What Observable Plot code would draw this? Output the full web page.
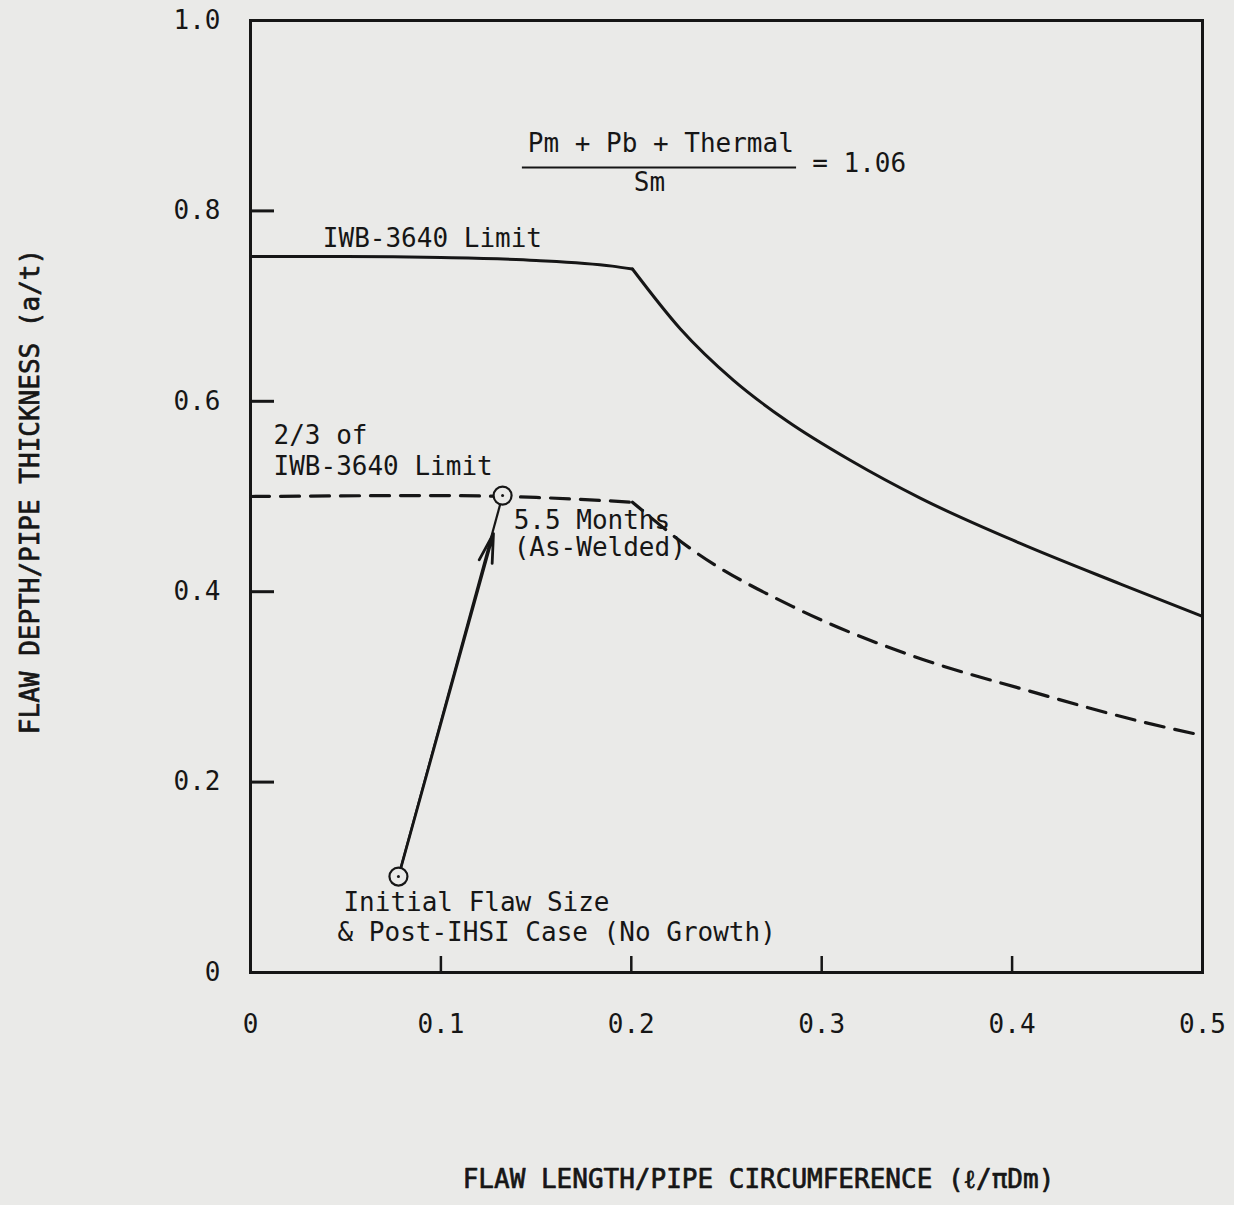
<!DOCTYPE html>
<html>
<head>
<meta charset="utf-8">
<script src="https://cdn.jsdelivr.net/npm/d3@7"></script>
<script src="https://cdn.jsdelivr.net/npm/@observablehq/plot@0.6"></script>
<style>
  html, body { margin: 0; padding: 0; background: #eaeae8; }
  #chart svg { display: block; }
</style>
</head>
<body>
<div id="chart"></div>
<script>
// ---- Data ----
// IWB-3640 limit curve (a/t vs l/πDm): flat part, then the falling part after the knee at ~0.2
const limitFlatX = [0, 0.05, 0.1, 0.15, 0.19, 0.2006];
const limitFlatY = [0.752, 0.752, 0.751, 0.748, 0.742, 0.739];
const limitFallX = [0.2006, 0.2258, 0.2537, 0.282, 0.315, 0.352, 0.404, 0.457, 0.5];
const limitFallY = [0.739, 0.676, 0.622, 0.579, 0.538, 0.498, 0.451, 0.408, 0.374];

// 2/3 of IWB-3640 limit (dashed)
const twoThirdFlatX = [0, 0.1, 0.15, 0.2006];
const twoThirdFlatY = [0.500, 0.501, 0.499, 0.494];
const twoThirdFallX = [0.2006, 0.2327, 0.2862, 0.347, 0.4085, 0.47, 0.5];
const twoThirdFallY = [0.494, 0.443, 0.383, 0.333, 0.296, 0.2625, 0.249];

// Flaw growth points
const pointNames = ["Initial", "5.5 Months"];
const pointX = [0.0777, 0.1324];
const pointY = [0.1008, 0.501];
// arrow head location along the growth path
const arrowTipX = 0.1276;
const arrowTipY = 0.461;

// Axis ticks
const xTicks = [0, 0.1, 0.2, 0.3, 0.4, 0.5];
const yTicks = [0, 0.2, 0.4, 0.6, 0.8, 1.0];
const xTickMarks = [0.1, 0.2, 0.3, 0.4];
const yTickMarks = [0.2, 0.4, 0.6, 0.8];

// Text
const xLabel = "FLAW LENGTH/PIPE CIRCUMFERENCE (\u2113/\u03c0Dm)";
const yLabel = "FLAW DEPTH/PIPE THICKNESS (a/t)";
const annoText = ["IWB-3640 Limit", "2/3 of", "IWB-3640 Limit", "5.5 Months", "(As-Welded)", "Initial Flaw Size", "& Post-IHSI Case (No Growth)", "Pm + Pb + Thermal", "= 1.06"];
const annoX = [0.0380, 0.0121, 0.0121, 0.1382, 0.1382, 0.0488, 0.0457, 0.1456, 0.2950];
const annoY = [0.771, 0.5635, 0.5315, 0.475, 0.446, 0.0735, 0.042, 0.871, 0.850];
const formulaDenom = "Sm";
const denomX = 0.2095, denomY = 0.830;
const barX1 = 0.1428, barX2 = 0.2868, barY = 0.8455;

// ---- Build tables ----
const toRows = (xs, ys) => xs.map((x, i) => ({x, y: ys[i]}));
const limitFlat = toRows(limitFlatX, limitFlatY);
const limitFall = toRows(limitFallX, limitFallY);
const twoThirdFlat = toRows(twoThirdFlatX, twoThirdFlatY);
const twoThirdFall = toRows(twoThirdFallX, twoThirdFallY);
const points = pointNames.map((n, i) => ({name: n, x: pointX[i], y: pointY[i]}));
const annos = annoText.map((t, i) => ({text: t, x: annoX[i], y: annoY[i]}));

const INK = "#161616";
const PAPER = "#eaeae8";
const font = "'DejaVu Sans Mono', monospace";
const dash = "19,11";

const chart = Plot.plot({
  width: 1234,
  height: 1205,
  marginLeft: 250,
  marginRight: 32,
  marginTop: 20,
  marginBottom: 233,
  x: {domain: [0, 0.5]},
  y: {domain: [0, 1]},
  style: {background: PAPER, fontFamily: font, fontSize: "24px", color: INK},
  marks: [
    Plot.frame({stroke: INK, strokeWidth: 3}),
    Plot.ruleY(yTickMarks, {stroke: INK, strokeWidth: 3, insetRight: 928}),
    Plot.ruleX(xTickMarks, {stroke: INK, strokeWidth: 2.5, insetTop: 936}),
    Plot.axisY({ticks: yTicks, tickSize: 0, tickPadding: 30, label: null, fontSize: 26,
      tickFormat: d => d === 0 ? "0" : d.toFixed(1)}),
    Plot.axisX({ticks: xTicks, tickSize: 0, tickPadding: 42, label: null, fontSize: 26,
      tickFormat: d => d === 0 ? "0" : String(d)}),
    Plot.line(limitFlat, {x: "x", y: "y", curve: "monotone-x", stroke: INK, strokeWidth: 3}),
    Plot.line(limitFall, {x: "x", y: "y", curve: "monotone-x", stroke: INK, strokeWidth: 3}),
    Plot.line(twoThirdFlat, {x: "x", y: "y", curve: "monotone-x", stroke: INK, strokeWidth: 3.2, strokeDasharray: dash}),
    Plot.line(twoThirdFall, {x: "x", y: "y", curve: "monotone-x", stroke: INK, strokeWidth: 3.2, strokeDasharray: dash, strokeDashoffset: 6}),
    Plot.link([0], {x1: pointX[0], y1: pointY[0], x2: pointX[1], y2: pointY[1], stroke: INK, strokeWidth: 2.2}),
    Plot.arrow([0], {x1: pointX[0], y1: pointY[0], x2: arrowTipX, y2: arrowTipY, stroke: INK, strokeWidth: 2.8, headLength: 16, headAngle: 26}),
    Plot.dot(points, {x: "x", y: "y", r: 9, stroke: INK, strokeWidth: 2.2, fill: PAPER}),
    Plot.dot(points, {x: "x", y: "y", r: 1.5, fill: INK}),
    Plot.text(annos, {x: "x", y: "y", text: "text", textAnchor: "start", fontSize: 26, fill: INK}),
    Plot.text([formulaDenom], {x: denomX, y: denomY, text: d => d, fontSize: 26, fill: INK}),
    Plot.ruleY([barY], {x1: barX1, x2: barX2, stroke: INK, strokeWidth: 2}),
    Plot.text([xLabel], {frameAnchor: "bottom", dy: 215, dx: 32, text: d => d, fontSize: 26,
      fill: INK, stroke: INK, strokeWidth: 0.7}),
    Plot.text([yLabel], {frameAnchor: "left", textAnchor: "middle", dx: -220, dy: -5, rotate: -90, text: d => d, fontSize: 26,
      fill: INK, stroke: INK, strokeWidth: 0.7})
  ]
});

document.getElementById("chart").appendChild(chart);
</script>
</body>
</html>
